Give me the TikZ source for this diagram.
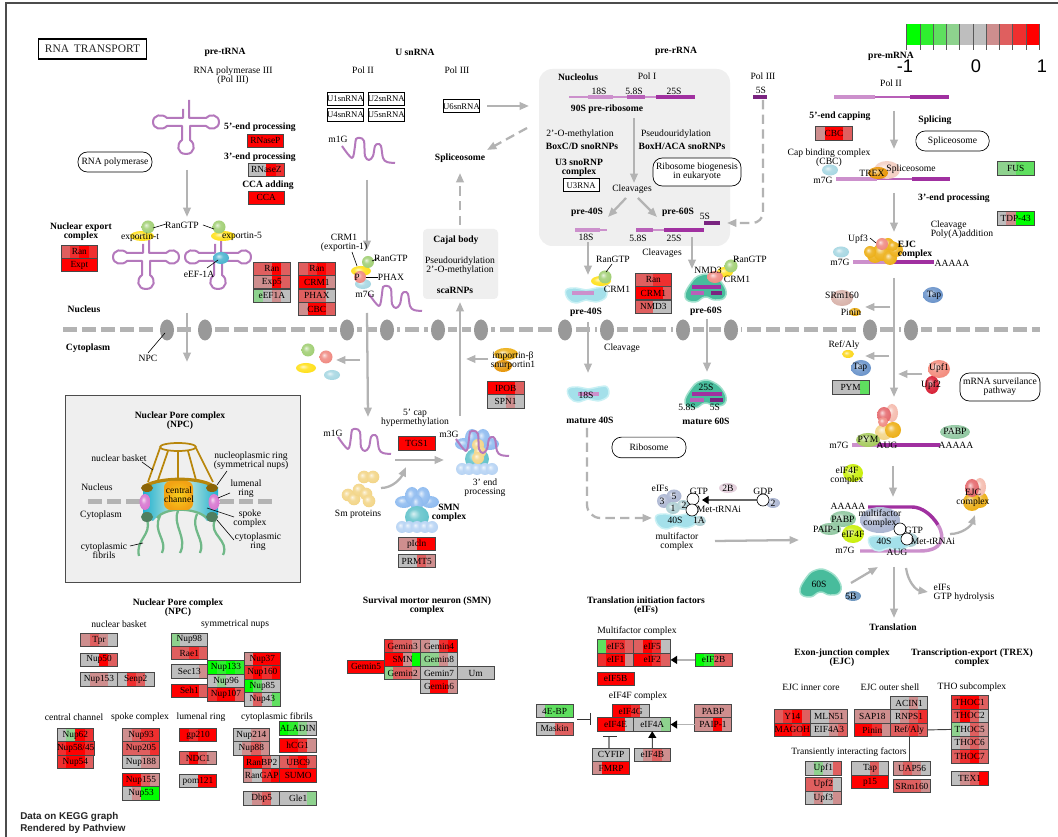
\documentclass[tikz,border=0pt]{standalone}
\usepackage{fontspec}
\setmainfont{Liberation Serif}
\newfontfamily\hv{Liberation Sans}
\usetikzlibrary{arrows.meta}
\definecolor{kg}{HTML}{BEBEBE}\definecolor{kp}{HTML}{CE8E8E}\definecolor{km}{HTML}{DF5F5F}
\definecolor{ko}{HTML}{EF2F2F}\definecolor{kr}{HTML}{FF0000}
\definecolor{ka}{HTML}{8ED28E}\definecolor{kb}{HTML}{5FDF5F}\definecolor{kc}{HTML}{2FEF2F}\definecolor{kd}{HTML}{00FF00}
\definecolor{arrowgray}{HTML}{B3B3B3}\definecolor{pore}{HTML}{999999}\definecolor{panel}{HTML}{EFEFEF}
\definecolor{rnal}{HTML}{CC90CC}\definecolor{rnam}{HTML}{B860B8}\definecolor{rnad}{HTML}{A030A0}\definecolor{rnax}{HTML}{7A2480}\definecolor{rnaw}{HTML}{B478BC}
\definecolor{cGreen}{HTML}{A3D077}\definecolor{cYellow}{HTML}{FFE11F}\definecolor{cRed}{HTML}{F08C84}\definecolor{cLBlue}{HTML}{A9D8E3}
\definecolor{cTeal}{HTML}{4FB5D0}\definecolor{cGold}{HTML}{EDB11C}\definecolor{cTan}{HTML}{F3D68A}\definecolor{cPab}{HTML}{93C9A3}
\definecolor{cTap}{HTML}{6F97CC}\definecolor{cUpfa}{HTML}{F48F80}\definecolor{cUpfb}{HTML}{D9253A}\definecolor{cLime}{HTML}{CBF00F}
\definecolor{cSRm}{HTML}{D9B4AC}\definecolor{cPink}{HTML}{F5BDB0}\definecolor{cRedd}{HTML}{E56C70}\definecolor{cGrey}{HTML}{AEB8D3}
\definecolor{cPYM}{HTML}{A8CC60}\definecolor{cOrange}{HTML}{E8980C}\definecolor{cPetal}{HTML}{90BCF0}\definecolor{cBub}{HTML}{B8D4F4}
\definecolor{cBody}{HTML}{66C4CC}\definecolor{cPale}{HTML}{B0D0D4}\definecolor{cTB}{HTML}{F4D0C4}\definecolor{cBB}{HTML}{E4D0DC}
\definecolor{cFive}{HTML}{7098C0}\definecolor{cMag}{HTML}{D878D0}\definecolor{cBrown}{HTML}{8B6508}\definecolor{cBask}{HTML}{B8860B}
\definecolor{cFib}{HTML}{70B888}\definecolor{cDGr}{HTML}{4F7F5F}\definecolor{cAqua}{HTML}{A4E0EA}\definecolor{cAquaL}{HTML}{C8F0F4}
\definecolor{cSea}{HTML}{48BC9C}\definecolor{cSeaL}{HTML}{A0E0CC}\definecolor{cBand}{HTML}{20B0D0}\definecolor{cBandM}{HTML}{D8F0E0}
\definecolor{softc}{HTML}{FFFFFF}
\pgfdeclareradialshading[softc]{softball}{\pgfpoint{-8bp}{8bp}}{color(0bp)=(softc!25!white);color(12bp)=(softc!88!white);color(25bp)=(softc);color(50bp)=(softc!88!black)}
\newcounter{tc}\newcounter{ac}
\tikzset{
 txt/.style={inner sep=0pt,outer sep=0pt,align=center,text=black,font=\fontsize{7.2}{6.9}\selectfont},
 bt/.style={txt,font=\fontsize{7.2}{6.9}\selectfont\bfseries},
 gene/.style={draw=black!72,line width=.7pt,inner sep=0pt,outer sep=0pt,anchor=north west,minimum width=27.5pt,minimum height=10.1pt,text=black,font=\fontsize{7}{7}\selectfont},
 wbox/.style={draw=black,line width=.7pt,fill=white,inner sep=0pt,anchor=north west,minimum width=27pt,minimum height=9.75pt,font=\fontsize{6.5}{7}\selectfont},
 rbox/.style={draw=black,line width=.5pt,fill=white,rounded corners=7pt,inner sep=0pt,align=center,font=\fontsize{7.2}{6.9}\selectfont},
 gline/.style={draw=arrowgray,line width=1.7pt},
 garrow/.style={gline,-{Triangle[length=7pt,width=5.5pt]}},
 gdash/.style={garrow,dash pattern=on 7pt off 4pt},
 rnaline/.style={draw=rnaw,line width=1.5pt,line join=round},
 lnk/.style={draw=black,line width=.45pt},
 ntip/.style={draw=arrowgray,line width=1.3pt,-{Triangle[length=5pt,width=6pt,color=black]}},
}
\newcommand\gb[8]{%
 \fill[#5] ({#2},{#3}) rectangle ({#2+9.18},{#3+13.5});
 \fill[#6] ({#2+9.18},{#3}) rectangle ({#2+18.36},{#3+13.5});
 \fill[#7] ({#2+18.36},{#3}) rectangle ({#2+27.54},{#3+13.5});
 \fill[#8] ({#2+27.54},{#3}) rectangle ({#2+36.7},{#3+13.5});
 \node[gene] (#1) at ({#2},{#3}) {#4};}
\newcommand\tx[3][]{\stepcounter{tc}\node[txt,#1] (t\arabic{tc}) at (#2) {#3};}
\newcommand\btx[2]{\stepcounter{tc}\node[bt] (t\arabic{tc}) at (#1) {#2};}
\newcommand\gar[3][garrow]{\stepcounter{ac}\coordinate (a\arabic{ac}) at (#2);\coordinate (b\arabic{ac}) at (#3);\draw[#1] (a\arabic{ac}) -- (b\arabic{ac});}
\newcommand\garc[5][garrow]{\stepcounter{ac}\coordinate (a\arabic{ac}) at (#2);\coordinate (b\arabic{ac}) at (#5);\draw[#1] (a\arabic{ac}) .. controls (#3) and (#4) .. (b\arabic{ac});}
\newcommand\lk[2]{\gar[lnk]{#1}{#2}}
\newcommand\ballx[5]{\colorlet{softc}{#1}\shade[shading=softball] (#2,#3) ellipse [x radius=#4,y radius=#5];}
\newcommand\sgm[5]{\draw[#1,line width=#5pt] (#2,#4) -- (#3,#4);}
\newcommand\squig[2]{\draw[rnaline,shift={(#1,#2)}] plot[smooth,tension=.55] coordinates {(0,0)(10,12)(13,0)(14,-7)(18,-8)(22,-5)(23,10)(27,14)(31,10)(33,0)(36,-2)(39,0)(41,12)(45,16)(53,17)};}
\newcommand\trna[2]{\draw[rnaline,shift={(#1,#2)}] (3,-22) -- (3,-4) -- (20,-4) .. controls (24,-9) and (33,-7) .. (33,0) .. controls (33,7) and (24,9) .. (20,4) -- (4,4) -- (4,18) .. controls (10,22) and (9,32) .. (0,32) .. controls (-9,32) and (-10,22) .. (-4,18) -- (-4,4) -- (-19,4) .. controls (-24,9) and (-33,7) .. (-33,0) .. controls (-33,-7) and (-24,-9) .. (-19,-4) -- (-3,-4) -- (-3,-13);}
\newcommand\cyanblob[2]{\draw[shift={(#1,#2)},draw=cAquaL,line width=1.1pt,fill=cAqua] plot[smooth cycle,tension=.7] coordinates {(-20,-4)(-10,-6)(0,-4)(10,-6)(19,-6)(20,3)(10,8)(0,6)(-10,9)(-18,5)};}
\newcommand\greenblob[2]{\draw[shift={(#1,#2)},draw=cSeaL,line width=1.1pt,fill=cSea] plot[smooth cycle,tension=.8] coordinates {(-20,8)(-14,-6)(-4,-14)(8,-13)(19,-3)(20,8)(10,11)(0,8)(-10,13)};}
\newcommand\flower[2]{\begin{scope}[shift={(#1,#2)}]
 \ballx{cPetal}{-13}{-8}{9}{6}\ballx{cPetal}{13}{-8}{9}{6}
 \ballx{cPetal}{-5}{-14}{7}{9}\ballx{cPetal}{6}{-14}{7}{9}
 \ballx{cPetal}{0}{-6}{6}{9}
 \ballx{cBody}{0}{7}{12}{11}
 \foreach \q in {-15,-8,0,8,15}{\ballx{cBub}{\q}{17}{6}{6}}
\end{scope}}
\begin{document}
\begin{tikzpicture}[x=.75pt,y=-.75pt]
\useasboundingbox (0,0) rectangle (1058,837);
\fill[white] (0,0) rectangle (1058,837);
% frame
\draw[black!70,line width=.9pt] (1058,3) -- (6,3) -- (6,837);
% panels
\fill[panel,rounded corners=10pt] (539,69) rectangle (730,246);
\fill[panel,rounded corners=3pt] (423,229) rectangle (498,299);
\draw[black!70,fill=panel,line width=.7pt] (65,395) rectangle (300,582);
% membrane
\draw[arrowgray,line width=3.75pt,dash pattern=on 10.5pt off 3.75pt] (63,330) -- (1040,330);
\foreach \q in {167,205,347,387,438,481,565,607,683,731,870,911}{\fill[white] (\q-10,323) rectangle (\q+10,337);\fill[pore] (\q,330) ellipse [x radius=7,y radius=10.5];}
% legend
\foreach \q/\c in {0/kd,1/kc,2/kb,3/ka,4/kg,5/kg,6/kp,7/km,8/ko,9/kr}{\fill[\c] ({906.7+\q*13.26},24) rectangle ({906.7+(\q+1)*13.26},45);}
\foreach \q in {0,...,10}{\draw[black!65,line width=.6pt] ({906.7+\q*13.26},24) -- ({906.7+\q*13.26},50);}
\node[inner sep=0pt,font=\hv\fontsize{13.7}{14}\selectfont] (lgA) at (905,66) {-1};
\node[inner sep=0pt,font=\hv\fontsize{13.7}{14}\selectfont] (lgB) at (976,66) {0};
\node[inner sep=0pt,font=\hv\fontsize{13.7}{14}\selectfont] (lgC) at (1042,66) {1};
% title
\node[draw=black,line width=.8pt,inner sep=0pt,minimum width=81pt,minimum height=15pt,font=\fontsize{8.6}{9}\selectfont,text=black!85] (title) at (92.5,49) {RNA\, TRANSPORT};
% rounded boxes
\node[rbox,minimum width=55.5pt,minimum height=15pt] (rbA) at (115,162) {RNA polymerase};
\node[rbox,minimum width=66pt,minimum height=21pt] (rbB) at (697,172) {Ribosome biogenesis\\in eukaryote};
\node[rbox,minimum width=55pt,minimum height=15pt] (rbC) at (952.5,141) {Spliceosome};
\node[rbox,minimum width=60pt,minimum height=21pt] (rbD) at (1000,387) {mRNA surveilance\\pathway};
\node[rbox,minimum width=55.5pt,minimum height=15.5pt] (rbE) at (649,447.5) {Ribosome};
% tRNA
\trna{186}{122}\trna{146}{257}\trna{218}{257}
% squiggles
\squig{342}{146}\squig{369}{294}\squig{338}{437}
% white snRNA boxes
\node[wbox] (UA) at (326.7,91.7) {U1snRNA};\node[wbox] (UB) at (367.5,91.7) {U2snRNA};
\node[wbox] (UD) at (326.7,107.7) {U4snRNA};\node[wbox] (UE) at (367.5,107.7) {U5snRNA};
\node[wbox] (UF) at (442.7,99.3) {U6snRNA};\node[wbox] (UC) at (562.7,178.3) {U3RNA};
% rRNA bars
\sgm{rnal}{569}{656}{97}{1.5}\sgm{rnal}{588}{613}{97}{3.2}\sgm{rnam}{627}{645}{97}{3.2}\sgm{rnad}{656}{695}{97}{3.6}
\sgm{rnax}{753}{767}{97}{3.2}
\sgm{rnal}{575}{600}{230}{3.2}\sgm{rnal}{600}{607}{230}{1.5}
\sgm{rnam}{636}{653}{230}{3.2}\sgm{rnal}{653}{664}{230}{1.5}\sgm{rnad}{664}{704}{230}{3.2}\sgm{rnax}{704}{720}{223}{3.6}
\sgm{rnal}{834}{875}{97}{3.2}\sgm{rnam}{875}{910}{97}{1.5}\sgm{rnad}{910}{949}{97}{3.2}
\sgm{rnal}{836}{877}{179}{3.2}\sgm{rnam}{877}{912}{179}{1.5}\sgm{rnad}{912}{950}{179}{3.2}
\sgm{rnal}{853}{894}{262}{3.2}\sgm{rnad}{894}{934}{262}{3.2}
\sgm{rnal}{852}{877}{445}{3.2}\sgm{rnad}{877}{940}{445}{3.2}
\draw[rnad,line width=2.6pt] (868,507) -- (912,507) .. controls (922,507) and (932,515) .. (938,525);
\draw[rnal,line width=2.6pt] (938,525) .. controls (946,538) and (942,551) .. (920,551) -- (860,551);
% arrows
\gar{187,170}{187,217}\gar{187,313}{187,362}\gar{360,360}{336,360}
\gar{367,180}{367,250}\gar{367,313}{368,417}\gar{487,106}{529,106}
\gar[gdash]{527,128}{487,150}\gar[gdash]{460,225}{460,173}\gar{460,416}{460,302}\gar{488,359}{466,359}
\gar{634,118}{634,183}\gar{626,198}{608,217}\gar{638,198}{657,217}
\gar{588,242}{588,275}\gar{692,237}{692,269}\gar{588,322}{588,373}\gar{707,319}{707,372}
\coordinate (dsA) at (763,100);\coordinate (dsB) at (763,223);\coordinate (dsC) at (727,223);
\draw[gdash,rounded corners=8pt] (dsA) -- (dsB) -- (dsC);
\coordinate (dtA) at (587,428);\coordinate (dtB) at (587,518);\coordinate (dtC) at (652,518);
\draw[gdash,rounded corners=10pt] (dtA) -- (dtB) -- (dtC);
\garc{381,488}{393,488}{401,478}{406,467}
\gar{395,460}{444,460}\gar{715,541}{799,540}
\gar{894,111}{894,149}\gar{894,193}{894,232}\gar{894,278}{894,397}
\gar{890,307}{865,307}\gar{889,356}{865,356}\gar{922,374}{898,374}
\gar{893,466}{893,497}\garc{950,534}{962,534}{971,526}{975,515}
\gar{851,583}{878,567}\gar{894,567}{894,618}\garc{906,568}{908,582}{916,590}{928,592}
% molecules: tRNA
\ballx{cYellow}{142}{236}{12}{5}\ballx{cGreen}{148}{227}{6.5}{6.5}
\ballx{cYellow}{223}{236}{12}{5}\ballx{cGreen}{219}{227}{6.5}{6.5}
\ballx{cTeal}{221}{258}{8}{6}
\ballx{cGreen}{308}{350}{6.5}{6.5}\ballx{cYellow}{306}{368}{10}{5}\ballx{cRed}{326}{357}{6.5}{6.5}\ballx{cLBlue}{332}{375}{8}{5}
% CRM1
\ballx{cLBlue}{363}{284}{8}{5}\ballx{cYellow}{361}{271}{10}{5}\ballx{cRed}{360}{277}{6}{6}\ballx{cGreen}{368}{262}{6}{6}
% pre-40S
\cyanblob{586}{294}\sgm{rnal}{572}{594}{293}{3}
\ballx{cYellow}{601}{281}{10}{5}\ballx{cGreen}{605}{277}{6.5}{6.5}
% pre-60S
\greenblob{705}{289}\sgm{rnad}{692}{721}{287}{2.4}\sgm{rnam}{691}{704}{293}{2.6}\sgm{rnax}{711}{722}{293}{2.6}
\ballx{cYellow}{725}{272}{8}{5}\ballx{cRed}{715}{277}{8}{6}\ballx{cGreen}{731}{266}{6.5}{6.5}
% mature
\cyanblob{588}{393}\sgm{rnal}{578}{599}{394}{3}
\greenblob{705}{395}\sgm{rnad}{692}{722}{394}{2.4}\sgm{rnam}{690}{704}{400}{2.6}\sgm{rnax}{710}{723}{400}{2.6}
% importin
\ballx{cOrange}{503}{366}{9}{6}\ballx{cGold}{506}{354}{12}{6}
% Sm proteins
\foreach \p/\q in {364/477,373/477,348/495,354/499,359/490,366/494,369/501}{\ballx{cTan}{\p}{\q}{6.3}{6.3}}
% SMN flowers
\flower{477}{452}
\foreach \p/\q in {478/445,480/452,478/458}{\ballx{cTan}{\p}{\q}{6}{6}}
\flower{417}{510}
\squig{456}{439}
% eIF cluster left
\cyanblob{676}{520}
\ballx{cGrey}{664}{501}{7}{7}\ballx{cGrey}{674}{496}{7.5}{6.5}\ballx{cPale}{673}{508}{7}{6}\ballx{cPale}{683}{505}{6}{5}\ballx{cPale}{700}{521}{6}{5}
\ballx{cBB}{728}{488}{9}{5}\ballx{cGrey}{773}{503}{7}{5}
\coordinate (gdpA) at (757,500);\coordinate (gdpB) at (702,500);
\draw[black!60,line width=.8pt,-{Triangle[length=5pt,width=6pt,color=black]}] (gdpA) -- (gdpB);
\node[circle,draw=black,fill=white,line width=.5pt,minimum size=9pt,inner sep=0pt] (ca) at (693,499) {};
\node[circle,draw=black,fill=white,line width=.5pt,minimum size=9pt,inner sep=0pt] (cb) at (692,510) {};
\node[circle,draw=black,fill=white,line width=.5pt,minimum size=9pt,inner sep=0pt] (cc) at (763,500) {};
% right top
\ballx{cLBlue}{830}{170}{8}{5.5}\ballx{cTB}{887}{170}{13}{9}\ballx{cOrange}{878}{173}{10}{6}
\ballx{cLBlue}{841}{252}{8}{5.5}
\foreach \p/\q/\r in {875/255/8,882/252/9,890/258/7,896/250/7,888/244/6,893/246/5,870/252/6}{\ballx{cGold}{\p}{\q}{\r}{\r}}
\ballx{cRed}{882}{244}{6}{6}
\ballx{cSRm}{842}{298}{11}{8}\ballx{cGold}{855}{312}{6}{4}
\ballx{cTap}{933}{295}{10}{8}\ballx{cYellow!80!cGold}{848}{354}{6}{4}
\ballx{cTap}{861}{368}{10}{8}\ballx{cUpfa}{939}{369}{11}{9}\ballx{cUpfb}{932}{385}{7}{9}
% PYM cluster
\ballx{cTan}{884}{432}{9}{8}\ballx{cGold}{893}{430}{8}{8}
\ballx{cPink}{892}{413}{6}{9}\ballx{cRedd}{884}{415}{7}{8}\ballx{cRed}{883}{422}{5}{5}
\ballx{cPYM}{868}{440}{12}{7}\ballx{cPab}{955}{432}{15}{7}
\ballx{cLime}{853}{473}{10}{9}
% bottom right cluster
\ballx{cPab}{843}{519}{13}{8}\ballx{cPab}{830}{529}{11}{6}
\ballx{cGrey}{880}{520}{20}{13}
\ballx{cPale}{910}{540}{8}{7}
\cyanblob{889}{542}
\ballx{cLime}{853}{534}{11}{9}
\node[circle,draw=black,fill=white,line width=.5pt,minimum size=9pt,inner sep=0pt] (cd) at (900,529) {};
\node[circle,draw=black,fill=white,line width=.5pt,minimum size=9pt,inner sep=0pt] (ce) at (907,539) {};
\ballx{cGold}{980}{500}{8}{8}\ballx{cGold}{972}{502}{9}{9}
\ballx{cPink}{980}{487}{6}{9}\ballx{cRedd}{972}{488}{7}{9}
\greenblob{820}{584}\ballx{cFive}{853}{596}{8}{5}
% NPC picture
\draw[draw=none,left color=cBand,right color=cBand,middle color=cBandM] (143,487) .. controls (160,477) and (200,477) .. (218,487) -- (218,515) -- (207,521) .. controls (197,506) and (165,506) .. (153,521) -- (143,515) -- cycle;
\draw[draw=arrowgray,line width=3.75pt,dash pattern=on 10.5pt off 3.75pt] (88,502) -- (140,502);
\draw[draw=arrowgray,line width=3.75pt,dash pattern=on 10.5pt off 3.75pt] (220,502) -- (272,502);
\draw[cBask,line width=1.3pt] (178,447) ellipse [x radius=18,y radius=4];
\draw[cBask,line width=1.3pt] (160,448) -- (148,482) (196,448) -- (213,482) (168,451) -- (158,480) (178,452) -- (178,480) (188,451) -- (196,480);
\draw[cBask,line width=2.4pt] (145,486) .. controls (160,477) and (200,477) .. (213,486);
\draw[cFib,line width=1.7pt] (147,520) .. controls (152,535) and (135,540) .. (139,556);
\draw[cFib,line width=1.7pt] (160,516) .. controls (152,532) and (168,540) .. (162,553);
\draw[cFib,line width=1.7pt] (178,511) .. controls (172,525) and (188,538) .. (180,553);
\draw[cFib,line width=1.7pt] (197,514) .. controls (190,530) and (206,540) .. (200,553);
\draw[cFib,line width=1.7pt] (215,520) .. controls (208,535) and (230,540) .. (223,555);
\draw[cFib,line width=1.7pt] (157,518) .. controls (165,507) and (195,507) .. (207,518);
\shade[inner color=cYellow!60!cGold,outer color=cGold!70!orange,rounded corners=5pt] (164,481) rectangle (193,510);
\fill[cBrown] (147,488) ellipse [x radius=6,y radius=4];\fill[cBrown] (212,488) ellipse [x radius=6,y radius=4];
\ballx{cMag}{145}{502}{5.5}{8}\ballx{cMag}{214}{502}{5.5}{8}
\fill[cDGr] (147,517) ellipse [x radius=6,y radius=5];\fill[cDGr] (212,517) ellipse [x radius=6,y radius=5];
\lk{142,462}{153,470}\lk{227,471}{217,485}\lk{230,493}{218,498}\lk{234,517}{207,508}\lk{234,540}{217,520}\lk{130,546}{143,543}
% thin links
\lk{166,224}{153,228}\lk{203,225}{214,229}\lk{207,268}{218,260}\lk{148,353}{165,333}
\lk{352,252}{357,266}\lk{379,258}{372,261}\lk{378,277}{366,277}\lk{612,264}{606,272}\lk{739,258}{735,260}\lk{870,238}{876,243}
% Texts
\btx{225,52}{pre-tRNA}\btx{415,52}{U snRNA}\btx{676,51}{pre-rRNA}\btx{891,56}{pre-mRNA}\tx{891,83}{Pol II}
\tx{233,76}{RNA polymerase III\\(Pol III)}
\btx{260,127}{5'-end processing}\btx{260,157}{3'-end processing}\btx{268,185}{CCA adding}
\btx{81,232}{Nuclear export\\complex}
\tx{182,225}{RanGTP}\tx{140,237}{exportin-t}\tx{242,236}{exportin-5}\tx{199,274}{eEF-1A}
\tx{344,243}{CRM1\\(exportin-1)}
\btx{84,309}{Nucleus}\btx{88,348}{Cytoplasm}\tx{148,358}{NPC}
\tx{363,70}{Pol II}\tx{457,70}{Pol III}\tx{338,139}{m1G}\btx{460,158}{Spliceosome}
\btx{578,77}{Nucleolus}\tx{647,76}{Pol I}\tx{599,91}{18S}\tx{634,91}{5.8S}\tx{674,91}{25S}
\btx{607,109}{90S pre-ribosome}
\tx{580,134}{2'-O-methylation}\btx{582,146}{BoxC/D snoRNPs}\tx{676,134}{Pseudouridylation}\btx{682,146}{BoxH/ACA snoRNPs}
\btx{579,168}{U3 snoRNP\\complex}\tx{632,189}{Cleavages}
\btx{587,212}{pre-40S}\btx{678,212}{pre-60S}\tx{705,216}{5S}\tx{586,237}{18S}\tx{638,238}{5.8S}\tx{674,238}{25S}
\tx{662,253}{Cleavages}\tx{763,76}{Pol III}\tx{761,90}{5S}
\tx{613,259}{RanGTP}\tx{617,289}{CRM1}\btx{586,312}{pre-40S}\tx{708,270}{NMD3}\tx{750,259}{RanGTP}\tx{737,279}{CRM1}\btx{706,311}{pre-60S}
\tx{622,348}{Cleavage}
\btx{456,240}{Cajal body}\tx{460,266}{Pseudouridylation\\2'-O-methylation}\btx{455,290}{scaRNPs}
\tx{391,258}{RanGTP}\tx{357,277}{P}\tx{391,277}{PHAX}\tx{365,294}{m7G}
\tx{513,361}{importin-β\\snurportin1}
\tx{415,418}{5' cap\\hypermethylation}\tx{333,433}{m1G}\tx{449,434}{m3G}\tx{485,488}{3' end\\processing}
\tx{358,514}{Sm proteins}\btx{449,513}{SMN\\complex}\btx{590,420}{mature 40S}\btx{706,421}{mature 60S}
\tx{586,395}{18S}\tx{706,387}{25S}\tx{687,407}{5.8S}\tx{715,407}{5S}
\tx{660,488}{eIFs}\tx{674,496}{5}\tx{662,501}{3}\tx{673,508}{1}\tx{684,505}{2}\tx{699,491}{GTP}\tx{719,509}{Met-tRNAi}\tx{675,520}{40S}\tx{699,520}{1A}\tx{677,542}{multifactor\\complex}
\tx{728,488}{2B}\tx{763,491}{GDP}\tx{773,503}{2}
\tx{829,158}{Cap binding complex\\(CBC)}\tx{823,180}{m7G}\tx{872,173}{TREX}\tx{911,169}{Spliceosome}
\btx{840,116}{5'-end capping}\btx{935,120}{Splicing}\btx{954,198}{3'-end processing}
\tx[align=left]{962,230}{Cleavage\\Poly(A)addition}\tx{858,239}{Upf3}\tx{840,262}{m7G}
\tx[bt,align=left]{915,250}{EJC\\complex}\tx{952,263}{AAAAA}\tx{842,295}{SRm160}\tx{851,312}{Pinin}\tx{934,295}{Tap}\tx{844,345}{Ref/Aly}\tx{860,367}{Tap}\tx{939,368}{Upf1}\tx{931,385}{Upf2}
\tx{839,445}{m7G}\tx{868,439}{PYM}\tx{887,445}{AUG}\tx{955,431}{PABP}\tx{956,445}{AAAAA}\tx{847,476}{eIF4F\\complex}
\tx{848,506}{AAAAA}\tx{880,519}{multifactor\\complex}\tx{843,519}{PABP}\tx{827,529}{PAIP-1}\tx{853,534}{eIF4F}\tx{914,530}{GTP}\tx{933,541}{Met-tRNAi}\tx{884,541}{40S}\tx{845,550}{m7G}\tx{897,552}{AUG}
\tx{973,498}{EJC\\complex}\tx{819,584}{60S}\tx{851,596}{5B}\tx[align=left]{964,593}{eIFs\\GTP hydrolysis}\btx{893,627}{Translation}
\btx{180,421}{Nuclear Pore complex\\(NPC)}\tx{119,458}{nuclear basket}\tx{251,461}{nucleoplasmic ring\\(symmetrical nups)}\tx{97,487}{Nucleus}\tx{246,489}{lumenal\\ring}\tx{101,515}{Cytoplasm}\tx{179,495}{central\\channel}\tx{250,519}{spoke\\complex}\tx{258,542}{cytoplasmic\\ring}\tx{104,551}{cytoplasmic\\fibrils}
\btx{178,608}{Nuclear Pore complex\\(NPC)}\tx{119,624}{nuclear basket}\tx{235,624}{symmetrical nups}\tx{74,717}{central channel}\tx{140,717}{spoke complex}\tx{201,717}{lumenal ring}\tx{277,717}{cytoplasmic fibrils}
\btx{427,606}{Survival mortor neuron (SMN)\\complex}\btx{646,606}{Translation initiation factors\\(eIFs)}\tx{637,631}{Multifactor complex}\tx{638,696}{eIF4F complex}
\btx{842,658}{Exon-junction complex\\(EJC)}\btx{972,658}{Transcription-export (TREX)\\complex}\tx{811,687}{EJC inner core}\tx{890,687}{EJC outer shell}\tx{972,687}{THO subcomplex}\tx{849,752}{Transiently interacting factors}
\node[inner sep=0pt,anchor=west,font=\hv\bfseries\fontsize{7.4}{8}\selectfont,text=black!85] (dataA) at (20,817) {Data on KEGG graph};
\node[inner sep=0pt,anchor=west,font=\hv\bfseries\fontsize{7.4}{8}\selectfont,text=black!85] (dataB) at (20,829) {Rendered by Pathview};
% Gene boxes
\gb{RNaseP}{247}{134}{RNaseP}{kr}{kr}{kr}{kr}
\gb{RNaseZ}{248}{163}{RNaseZ}{kg}{kg}{kr}{ko}
\gb{CCA}{248}{191}{CCA}{kr}{kr}{kr}{kr}
\gb{RanA}{61}{245}{Ran}{km}{ko}{kr}{ko}
\gb{Expt}{61}{258.5}{Expt}{kr}{kr}{kr}{kr}
\gb{RanB}{253.5}{262}{Ran}{km}{km}{kr}{km}
\gb{Exp5}{253.5}{275.5}{Exp5}{kp}{kp}{kr}{km}
\gb{eEF1A}{253.5}{289}{eEF1A}{ka}{kg}{kp}{kg}
\gb{RanC}{298.5}{262}{Ran}{km}{ko}{kr}{ko}
\gb{CRMA}{298.5}{275.5}{CRM1}{kr}{kr}{kr}{kp}
\gb{PHAX}{298.5}{289}{PHAX}{km}{km}{km}{kg}
\gb{CBCA}{298.5}{302.5}{CBC}{kp}{kr}{kr}{km}
\gb{RanD}{635}{273}{Ran}{km}{km}{ko}{ko}
\gb{CRMB}{635}{286.5}{CRM1}{kr}{kr}{kr}{km}
\gb{NMD}{635}{300}{NMD3}{km}{km}{kg}{kg}
\gb{CBCB}{815.7}{126.7}{CBC}{kp}{kr}{kr}{km}
\gb{FUS}{997.3}{161.7}{FUS}{ka}{ka}{kb}{kb}
\gb{TDP}{997.3}{211.7}{TDP-43}{kg}{kp}{kd}{kd}
\gb{PYM}{832.3}{380.7}{PYM}{kg}{kg}{kg}{kb}
\gb{IPOB}{487.3}{381.3}{IPOB}{kr}{kr}{kr}{km}
\gb{SPN}{487.3}{394.8}{SPN1}{kg}{kg}{kp}{kg}
\gb{TGS}{398.3}{436.7}{TGS1}{kr}{kr}{kr}{kr}
\gb{pIcln}{398.3}{537.3}{pIcln}{kp}{kp}{kr}{kr}
\gb{PRMT}{398.3}{554.3}{PRMT5}{kg}{kg}{km}{kp}
\gb{Tpr}{80.7}{633.3}{Tpr}{kp}{km}{kp}{kg}
\gb{NupFifty}{80.7}{653}{Nup50}{kg}{kg}{kr}{km}
\gb{NupOFT}{80.7}{672.7}{Nup153}{kg}{kp}{kp}{kg}
\gb{Senp}{117.4}{672.7}{Senp2}{kg}{ko}{km}{kg}
\gb{NupNE}{171}{633}{Nup98}{ka}{kg}{kg}{kg}
\gb{Rae}{171}{646.5}{Rae1}{km}{km}{ko}{km}
\gb{Sec}{171}{664.7}{Sec13}{kg}{kg}{kg}{kp}
\gb{Seh}{171}{684}{Seh1}{kr}{kr}{kr}{km}
\gb{NupOTT}{207.7}{660.7}{Nup133}{kd}{kc}{kd}{kc}
\gb{NupNS}{207.7}{674.2}{Nup96}{kg}{ka}{kg}{kg}
\gb{NupOOS}{207.7}{687.7}{Nup107}{ko}{kr}{kr}{km}
\gb{NupTS}{244}{652.3}{Nup37}{kp}{kr}{kr}{kr}
\gb{NupOSO}{244}{665.8}{Nup160}{ko}{kr}{ko}{kr}
\gb{NupEF}{244}{679.3}{Nup85}{kd}{kb}{kg}{kg}
\gb{NupFT}{244}{692.8}{Nup43}{kg}{km}{kg}{kb}
\gb{NupST}{57}{728.3}{Nup62}{kg}{ka}{kr}{ko}
\gb{NupFE}{57}{741.8}{Nup58/45}{ko}{kr}{kr}{ko}
\gb{NupFF}{57}{755.3}{Nup54}{ko}{kr}{kr}{km}
\gb{NupNT}{122.7}{728.3}{Nup93}{kp}{km}{ko}{ko}
\gb{NupTOF}{122.7}{741.8}{Nup205}{km}{km}{km}{ko}
\gb{NupOEE}{122.7}{755.3}{Nup188}{kg}{kg}{kp}{kp}
\gb{NupOFF}{122.7}{773.3}{Nup155}{kr}{kr}{km}{kp}
\gb{NupFTh}{122.7}{786.8}{Nup53}{kg}{kp}{kd}{kd}
\gb{gp}{179.7}{728.3}{gp210}{kr}{ko}{kr}{kr}
\gb{NDC}{179.7}{751.3}{NDC1}{km}{kr}{km}{kp}
\gb{pom}{179.7}{774.3}{pom121}{kg}{kg}{kr}{kr}
\gb{NupTOFo}{233}{728.3}{Nup214}{kg}{kg}{kp}{kp}
\gb{NupEE}{233}{741.8}{Nup88}{kg}{kp}{km}{kp}
\gb{ALADIN}{279.3}{721.7}{ALADIN}{kd}{kc}{ka}{kg}
\gb{hCG}{279.3}{738.7}{hCG1}{kr}{kr}{ko}{kp}
\gb{RanBP}{243.3}{755.3}{RanBP2}{kr}{kr}{km}{kg}
\gb{RanGAP}{243.3}{768.8}{RanGAP}{kp}{kg}{ko}{kr}
\gb{UBC}{279.9}{755.3}{UBC9}{km}{ko}{kr}{km}
\gb{SUMO}{279.9}{768.8}{SUMO}{kr}{kr}{kr}{kr}
\gb{Dbp}{243.3}{791.7}{Dbp5}{kg}{kp}{km}{kg}
\gb{Gle}{279.9}{791.7}{Gle1}{kg}{kg}{kg}{ka}
\gb{GemC}{384.3}{639.3}{Gemin3}{ko}{km}{km}{kp}
\gb{GemD}{420.7}{639.3}{Gemin4}{kp}{kg}{ko}{kr}
\gb{SMN}{384.3}{652.8}{SMN}{kr}{kr}{kp}{kd}
\gb{GemH}{420.7}{652.8}{Gemin8}{ka}{ka}{kp}{kg}
\gb{GemE}{347.7}{660}{Gemin5}{kr}{kr}{kr}{kr}
\gb{GemB}{384.3}{666.3}{Gemin2}{ka}{km}{km}{kp}
\gb{GemG}{420.7}{666.3}{Gemin7}{kg}{kg}{kg}{kg}
\gb{Um}{457.3}{666.3}{Um}{kg}{kg}{kg}{kg}
\gb{GemF}{420.7}{679.8}{Gemin6}{kg}{kr}{kr}{kp}
\gb{eIFthree}{597.3}{639.7}{eIF3}{kb}{ko}{ko}{km}
\gb{eIFfive}{633.9}{639.7}{eIF5}{km}{kr}{ko}{kg}
\gb{eIFone}{597.3}{653.2}{eIF1}{ko}{kr}{kr}{kp}
\gb{eIFtwo}{633.9}{653.2}{eIF2}{kr}{kr}{ko}{km}
\gb{eIFtwoB}{695.3}{653.2}{eIF2B}{kd}{kc}{km}{km}
\gb{eIFfiveB}{597.3}{672}{eIF5B}{kr}{kr}{kr}{kr}
\gb{eIFfourG}{612.3}{704.3}{eIF4G}{kr}{kr}{ko}{kg}
\gb{eIFfourE}{597.3}{717.8}{eIF4E}{kr}{kr}{kr}{kg}
\gb{eIFfourA}{633.9}{717.8}{eIF4A}{kg}{kg}{kg}{ka}
\gb{fourEBP}{536.3}{704.3}{4E-BP}{kg}{kb}{kb}{kb}
\gb{Maskin}{536.3}{722}{Maskin}{kg}{kg}{km}{km}
\gb{PABP}{694.7}{704.3}{PABP}{kp}{kp}{kp}{kp}
\gb{PAIP}{694.7}{717.8}{PAIP-1}{kp}{kp}{kr}{kp}
\gb{CYFIP}{592.7}{748}{CYFIP}{kg}{kg}{kg}{kg}
\gb{FMRP}{592.7}{761.5}{FMRP}{kp}{kr}{kr}{kr}
\gb{eIFfourB}{634}{748}{eIF4B}{kg}{kp}{km}{kp}
\gb{Y}{774}{709.7}{Y14}{km}{ko}{kr}{km}
\gb{MAGOH}{774}{723.2}{MAGOH}{kr}{kr}{ko}{kr}
\gb{MLN}{810.7}{709.7}{MLN51}{kg}{kg}{kp}{kp}
\gb{EIFA}{810.7}{723.2}{EIF4A3}{kg}{kg}{kp}{km}
\gb{SAP}{854}{709.7}{SAP18}{kp}{kp}{kp}{kp}
\gb{Pinin}{854}{723.2}{Pinin}{kr}{kr}{ko}{kp}
\gb{ACIN}{890.7}{696.3}{ACIN1}{kg}{kg}{kp}{kg}
\gb{RNPS}{890.7}{709.7}{RNPS1}{kg}{kp}{km}{ko}
\gb{RefAly}{890.7}{723.2}{Ref/Aly}{km}{km}{ko}{km}
\gb{THOCa}{951.3}{695.7}{THOC1}{ko}{kr}{kr}{km}
\gb{THOCb}{951.3}{709.2}{THOC2}{km}{kr}{km}{kg}
\gb{THOCe}{951.3}{722.7}{THOC5}{ka}{kg}{km}{kp}
\gb{THOCf}{951.3}{736.2}{THOC6}{kg}{kp}{km}{kp}
\gb{THOCg}{951.3}{749.7}{THOC7}{km}{ko}{kr}{km}
\gb{TEX}{951.3}{771.7}{TEX1}{kg}{kp}{km}{kr}
\gb{Upfa}{805}{761.7}{Upf1}{kg}{ka}{kg}{km}
\gb{Upfb}{805}{777.7}{Upf2}{km}{km}{km}{kg}
\gb{Upfc}{805}{791.2}{Upf3}{kg}{kp}{kg}{kp}
\gb{TapG}{851.7}{761.7}{Tap}{kg}{kg}{km}{kg}
\gb{pFifteen}{851.7}{775.2}{p15}{kr}{kr}{kr}{kr}
\gb{UAP}{893.7}{761.7}{UAP56}{kp}{km}{kp}{kg}
\gb{SRm}{893.7}{779.3}{SRm160}{km}{km}{km}{kp}
% gene relations
\draw[ntip] (eIFtwoB.west) -- (eIFtwo.east);
\draw[ntip] (PAIP.west) -- (eIFfourA.east);
\draw[black!70,line width=.8pt,-{Triangle[length=5pt,width=6pt,color=black]}] (eIFfourB.north) -- (eIFfourA.south);
\coordinate (inhA) at (577,719);\coordinate (inhB) at (590.7,719);
\draw[black!80,line width=.6pt,-{Bar[width=9pt]}] (inhA) -- (inhB);
\coordinate (inhC) at (609,748);\coordinate (inhD) at (609,736);
\draw[arrowgray!80!black,line width=1pt] (inhC) -- (inhD);
\draw[black!80,line width=.7pt] (603,736) -- (617,736);
\draw[black!75,line width=.7pt] (RefAly.east) -- (THOCe.west);
\draw[black!75,line width=.7pt] (RefAly.south) -- (RefAly.south |- UAP.north);
\end{tikzpicture}
\end{document}
